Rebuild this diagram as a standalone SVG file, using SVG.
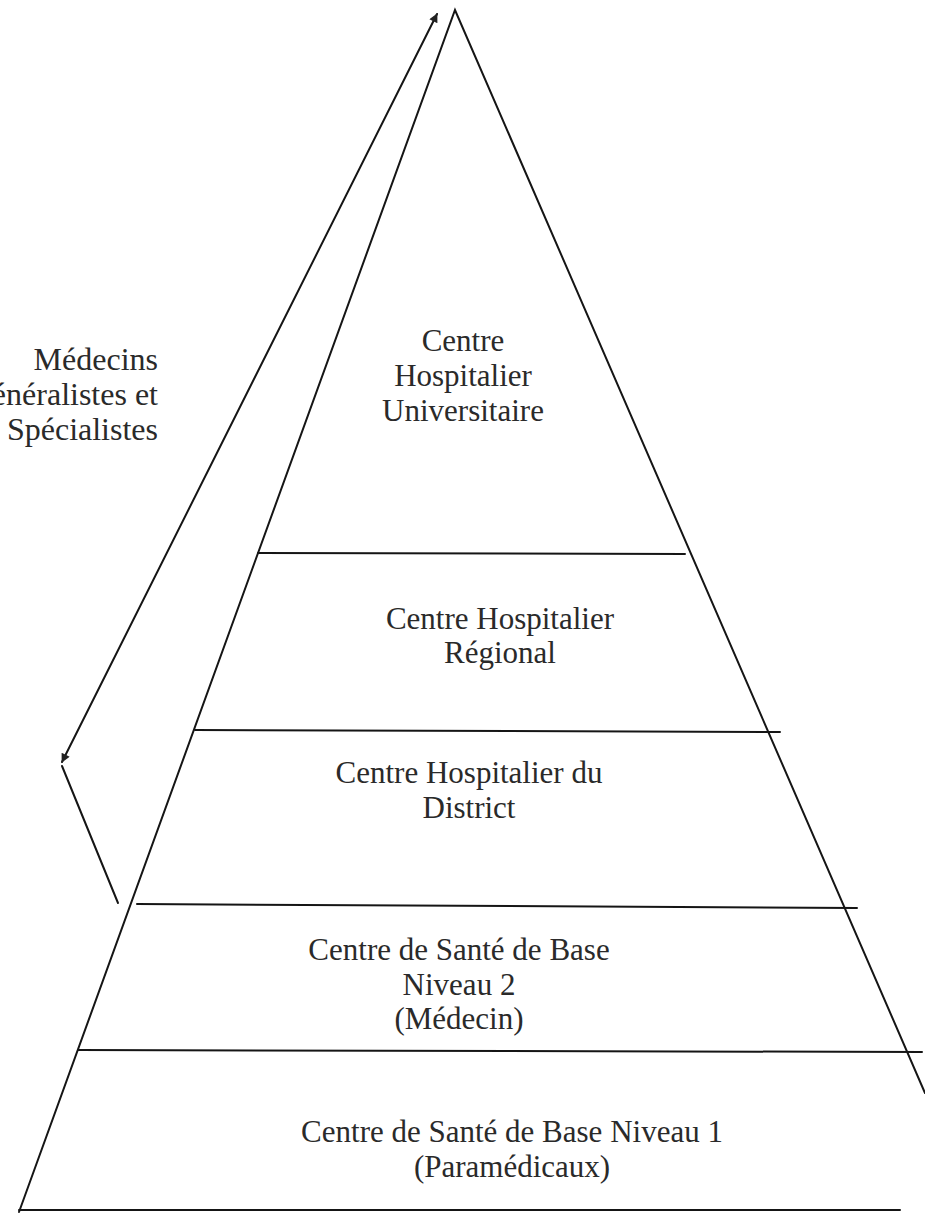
<svg xmlns="http://www.w3.org/2000/svg" width="925" height="1214" viewBox="0 0 925 1214">
  <defs>
    <marker id="arrow" viewBox="0 0 10 10" refX="9" refY="5" markerWidth="11" markerHeight="9" orient="auto-start-reverse" markerUnits="userSpaceOnUse">
      <path d="M0,0 L10,5 L0,10 Z" fill="#222"/>
    </marker>
    <style>
      .ln { stroke: #151515; stroke-width: 2; fill: none; stroke-linecap: round; }
      .tx { font-family: "Liberation Serif", "Times New Roman", serif; font-size: 31px; fill: #2a2a2a; text-anchor: middle; }
      .lbl { font-family: "Liberation Serif", "Times New Roman", serif; font-size: 32px; fill: #2a2a2a; text-anchor: end; }
    </style>
  </defs>
  <rect width="925" height="1214" fill="#ffffff"/>

  <g id="pyramid">
    <polyline class="ln" points="19,1212 455,10 925,1093"/>
    <line class="ln" x1="19" y1="1210" x2="900" y2="1210" stroke="#666" stroke-width="1.5"/>
  </g>

  <g id="dividers">
    <line class="ln" x1="258" y1="553" x2="685" y2="554"/>
    <line class="ln" x1="195" y1="730" x2="780" y2="732"/>
    <line class="ln" x1="137" y1="904" x2="857" y2="908"/>
    <line class="ln" x1="78" y1="1050" x2="922" y2="1052"/>
  </g>

  <g id="connectors">
    <line class="ln" x1="62" y1="762" x2="437" y2="14" marker-start="url(#arrow)" marker-end="url(#arrow)"/>
    <line class="ln" x1="62" y1="766" x2="118" y2="903"/>
  </g>

  <g id="label-medecins">
    <text class="lbl" x="158" y="370">Médecins</text>
    <text class="lbl" x="158" y="405">Généralistes et</text>
    <text class="lbl" x="158" y="440">Spécialistes</text>
  </g>

  <g id="node-chu">
    <text class="tx" x="463" y="351">Centre</text>
    <text class="tx" x="463" y="386">Hospitalier</text>
    <text class="tx" x="463" y="421">Universitaire</text>
  </g>

  <g id="node-chr">
    <text class="tx" x="500" y="629">Centre Hospitalier</text>
    <text class="tx" x="500" y="663">Régional</text>
  </g>

  <g id="node-chd">
    <text class="tx" x="469" y="783">Centre Hospitalier du</text>
    <text class="tx" x="469" y="818">District</text>
  </g>

  <g id="node-csb2">
    <text class="tx" x="459" y="960">Centre de Santé de Base</text>
    <text class="tx" x="459" y="995">Niveau 2</text>
    <text class="tx" x="459" y="1029">(Médecin)</text>
  </g>

  <g id="node-csb1">
    <text class="tx" x="512" y="1142">Centre de Santé de Base Niveau 1</text>
    <text class="tx" x="512" y="1177">(Paramédicaux)</text>
  </g>
</svg>
